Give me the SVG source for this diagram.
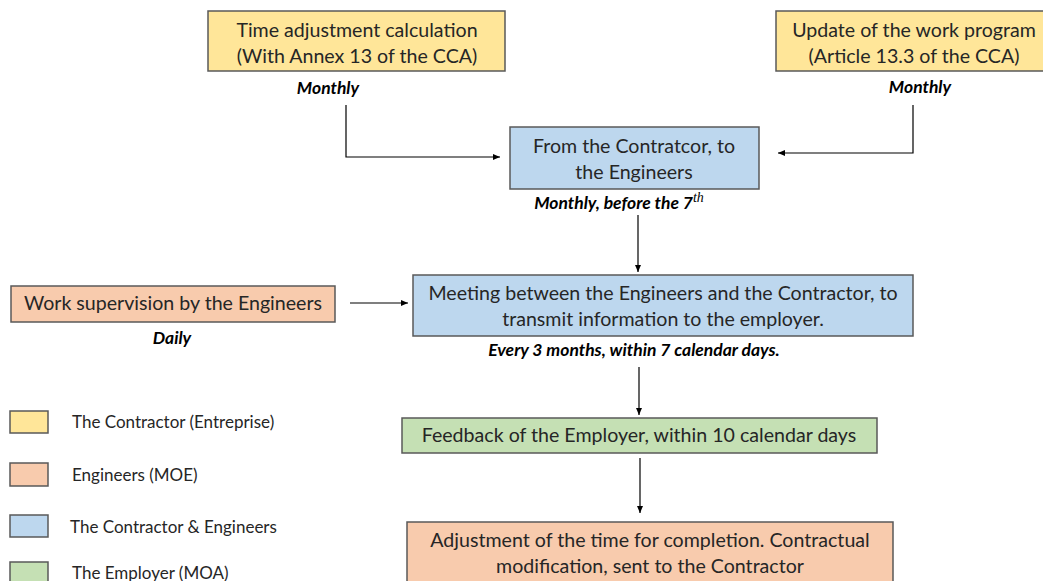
<svg xmlns="http://www.w3.org/2000/svg" width="1043" height="581" viewBox="0 0 1043 581">
<defs>
<marker id="ah" markerWidth="8" markerHeight="8" refX="7" refY="4" orient="auto" markerUnits="userSpaceOnUse">
<path d="M0,1 L7,4 L0,7 Z" fill="#000"/>
</marker>
<style>
.box{stroke:#595959;stroke-width:1.5}
.y{fill:#FFE699}.o{fill:#F8CBAD}.b{fill:#BDD7EE}.g{fill:#C5E0B4}
.t{font-family:Lato,"Open Sans","Liberation Sans",sans-serif;font-size:19.6px;fill:#262626;text-anchor:middle}
.n{font-family:Lato,"Open Sans","Liberation Sans",sans-serif;font-size:17.5px;font-weight:bold;font-style:italic;fill:#000;text-anchor:middle}
.l{font-family:Lato,"Open Sans","Liberation Sans",sans-serif;font-size:17px;fill:#262626}
.c{fill:none;stroke:#000;stroke-width:1.2}
</style>
</defs>
<rect width="1043" height="581" fill="#fff"/>
<g id="connectors">
<path class="c" d="M346,105 V157 H500" marker-end="url(#ah)"/>
<path class="c" d="M913,105 V153 H778" marker-end="url(#ah)"/>
<path class="c" d="M638,215 V272" marker-end="url(#ah)"/>
<path class="c" d="M350,303 H408" marker-end="url(#ah)"/>
<path class="c" d="M639,367 V415" marker-end="url(#ah)"/>
<path class="c" d="M640,458 V513" marker-end="url(#ah)"/>
</g>
<g id="n-time">
<rect class="box y" x="208" y="11" width="297" height="60"/>
<text class="t" x="357" y="37">Time adjustment calculation</text>
<text class="t" x="357" y="63">(With Annex 13 of the CCA)</text>
<text class="n" x="328" y="94">Monthly</text>
</g>
<g id="n-update">
<rect class="box y" x="776" y="11" width="272" height="60"/>
<text class="t" x="914" y="37">Update of the work program</text>
<text class="t" x="914" y="63">(Article 13.3 of the CCA)</text>
<text class="n" x="920" y="93">Monthly</text>
</g>
<g id="n-from">
<rect class="box b" x="510" y="127" width="249" height="62"/>
<text class="t" x="634" y="153">From the Contratcor, to</text>
<text class="t" x="634" y="179">the Engineers</text>
<text class="n" x="619" y="209">Monthly, before the 7<tspan font-family="'Liberation Serif',serif" font-size="14" font-weight="normal" dy="-7">th</tspan></text>
</g>
<g id="n-supervision">
<rect class="box o" x="11" y="286" width="324" height="36"/>
<text class="t" x="173" y="310">Work supervision by the Engineers</text>
<text class="n" x="172" y="344">Daily</text>
</g>
<g id="n-meeting">
<rect class="box b" x="413" y="275" width="500" height="61"/>
<text class="t" x="663" y="300">Meeting between the Engineers and the Contractor, to</text>
<text class="t" x="663" y="326">transmit information to the employer.</text>
<text class="n" x="634" y="356">Every 3 months, within 7 calendar days.</text>
</g>
<g id="n-feedback">
<rect class="box g" x="402" y="418" width="475" height="35"/>
<text class="t" x="639" y="442">Feedback of the Employer, within 10 calendar days</text>
</g>
<g id="n-adjust">
<rect class="box o" x="407" y="522" width="486" height="70"/>
<text class="t" x="650" y="547">Adjustment of the time for completion. Contractual</text>
<text class="t" x="650" y="573">modification, sent to the Contractor</text>
</g>
<g id="legend">
<rect class="box y" x="10" y="411" width="38" height="22"/>
<text class="l" x="72" y="428">The Contractor (Entreprise)</text>
<rect class="box o" x="10" y="463" width="38" height="23"/>
<text class="l" x="72" y="481">Engineers (MOE)</text>
<rect class="box b" x="10" y="515" width="38" height="22"/>
<text class="l" x="70" y="533">The Contractor &amp; Engineers</text>
<rect class="box g" x="10" y="562" width="38" height="25"/>
<text class="l" x="72" y="579">The Employer (MOA)</text>
</g>
</svg>
